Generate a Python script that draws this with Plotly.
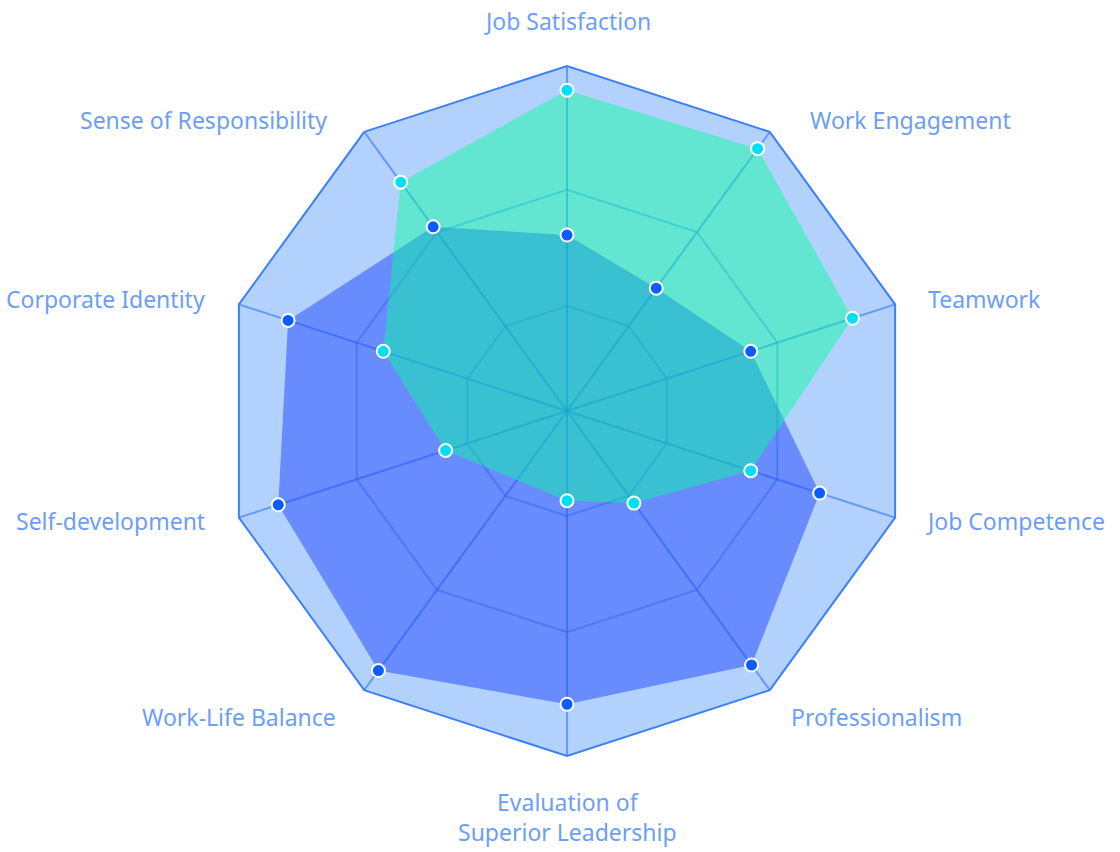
import math
import plotly.graph_objects as go

categories = [
    "Job Satisfaction", "Work Engagement", "Teamwork", "Job Competence",
    "Professionalism", "Evaluation of<br>Superior Leadership", "Work-Life Balance",
    "Self-development", "Corporate Identity", "Sense of Responsibility",
]
cyan_values = [93, 94, 87, 56, 33, 26, None, 37, 56, 82]
blue_values = [51, 44, 56, 77, 91, 85, 93, 88, 85, 66]
ring_values = [30.4, 64.1]

W, H = 1120, 852
cx, cy, R = 567, 411, 345
LABEL_R = R + 34
# fine label nudges (px) per axis label: (dx, dy-down)
label_nudge = [(0, 7), (18, 16), (-1, 5), (-3, -7), (-1, -1),
               (0, -6), (-6, -1), (0, -7), (0, 5), (-15, 16)]


def clean(vals):
    th = [c for c, v in zip(categories, vals) if v is not None]
    rr = [v for v in vals if v is not None]
    return th + th[:1], rr + rr[:1]


fig = go.Figure()

bt, br = clean(blue_values)
ct, cr = clean(cyan_values)

fig.add_trace(go.Scatterpolar(
    r=br, theta=bt, mode="lines", fill="toself",
    fillcolor="rgba(30,70,255,0.5)", line=dict(width=0, color="rgba(0,0,0,0)"),
    hoverinfo="skip", showlegend=False,
))
fig.add_trace(go.Scatterpolar(
    r=cr, theta=ct, mode="lines", fill="toself",
    fillcolor="rgba(0,254,155,0.45)", line=dict(width=0, color="rgba(0,0,0,0)"),
    hoverinfo="skip", showlegend=False,
))
fig.add_trace(go.Scatterpolar(
    r=br[:-1], theta=bt[:-1], mode="markers",
    marker=dict(size=13, color="#0a5cff", line=dict(color="white", width=2)),
    showlegend=False,
))
fig.add_trace(go.Scatterpolar(
    r=cr[:-1], theta=ct[:-1], mode="markers",
    marker=dict(size=13, color="#00def9", line=dict(color="white", width=2)),
    showlegend=False,
))

annotations = []
n = len(categories)
for i, name in enumerate(categories):
    ang = math.radians(90 - 360 * i / n)
    c, s = math.cos(ang), math.sin(ang)
    px = cx + LABEL_R * c + label_nudge[i][0]
    py = cy - LABEL_R * s + label_nudge[i][1]
    xa = "center" if abs(c) < 1e-3 else ("left" if c > 0 else "right")
    ya = "bottom" if s > 0.999 else ("top" if s < -0.999 else "middle")
    annotations.append(dict(
        x=px / W, y=1 - py / H, xref="paper", yref="paper",
        text=name, showarrow=False, xanchor=xa, yanchor=ya, align="center",
        font=dict(family="Noto Sans", size=23, color="#6d9ef6"),
    ))

fig.update_layout(
    width=W, height=H,
    margin=dict(l=0, r=0, t=0, b=0),
    paper_bgcolor="white",
    font=dict(family="Noto Sans", size=22, color="#6d9ef6"),
    annotations=annotations,
    polar=dict(
        domain=dict(x=[(cx - R) / W, (cx + R) / W], y=[1 - (cy + R) / H, 1 - (cy - R) / H]),
        gridshape="linear",
        bgcolor="rgb(178,210,253)",
        radialaxis=dict(
            range=[0, 100], tickvals=ring_values, showticklabels=False, ticks="",
            showline=False, gridcolor="rgba(50,120,240,0.45)", gridwidth=1.5,
        ),
        angularaxis=dict(
            type="category", categoryarray=categories, categoryorder="array",
            direction="clockwise", rotation=90,
            showline=True, linecolor="#3d7ff5", linewidth=2,
            gridcolor="rgba(50,115,245,0.6)", gridwidth=1.5,
            ticks="", showticklabels=False,
        ),
    ),
)

fig.write_html("out.html")
